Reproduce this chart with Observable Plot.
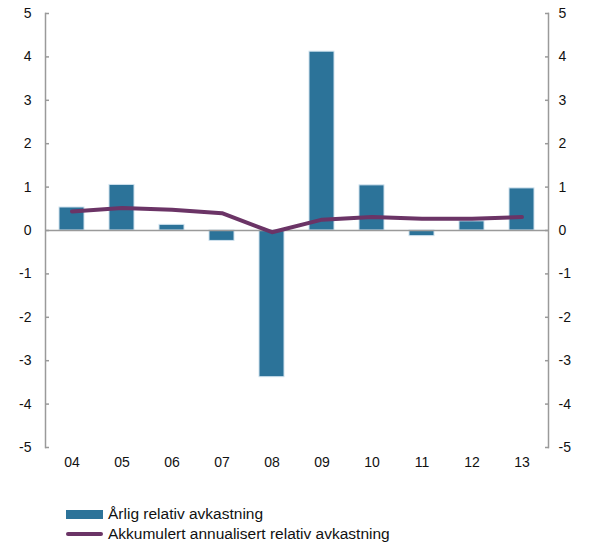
<!DOCTYPE html>
<html><head><meta charset="utf-8">
<script src="https://cdn.jsdelivr.net/npm/d3@7"></script>
<script src="https://cdn.jsdelivr.net/npm/@observablehq/plot@0.6"></script>
<style>
body{margin:0;background:#fff;font-family:"Liberation Sans",Arial,sans-serif;}
#legend{position:absolute;left:66px;top:504px;font-size:15.5px;color:#111}
.item{display:flex;align-items:center;height:20px}
.sw{display:inline-block;width:37px;margin-right:5px}
</style></head>
<body><div id="chart"></div>
<div id="legend">
<div class="item"><span class="sw" style="height:9px;background:#2c7399"></span>Årlig relativ avkastning</div>
<div class="item"><span class="sw" style="height:4px;background:#6b3466;border-radius:2px"></span>Akkumulert annualisert relativ avkastning</div>
</div>
<script>
const years = ["04","05","06","07","08","09","10","11","12","13"];
const annual = [0.53, 1.05, 0.13, -0.24, -3.38, 4.12, 1.04, -0.13, 0.21, 0.97];
const accumulated = [0.44, 0.52, 0.48, 0.40, -0.04, 0.25, 0.31, 0.27, 0.27, 0.31];
const yTicks = [-5,-4,-3,-2,-1,0,1,2,3,4,5];

const rows = years.map((y,i)=>({year:y, annual:annual[i], acc:accumulated[i]}));
const axisColor = "#9a9a9a";
const font = '"Liberation Sans", Arial, sans-serif';
const chart = Plot.plot({
  width: 592, height: 480,
  marginLeft: 45, marginRight: 44, marginTop: 13, marginBottom: 33,
  style: {fontFamily: font, color: "#111"},
  x: {domain: years, padding: 0.5, paddingOuter: 0.25, label: null, axis: null},
  y: {domain: [-5,5], label: null},
  marks: [
    Plot.barY(rows, {x:"year", y:"annual", fill:"#2c7399", stroke:"#cfe2ee", strokeWidth:1}),
    Plot.ruleY([0], {stroke: axisColor, strokeWidth: 1.5}),
    Plot.lineY(rows, {x:"year", y:"acc", stroke:"#6b3466", strokeWidth:4, strokeLinecap:"round"}),
    Plot.frame({anchor:"left", stroke: axisColor, strokeWidth: 1.5}),
    Plot.frame({anchor:"right", stroke: axisColor, strokeWidth: 1.5}),
    Plot.axisY(yTicks, {anchor:"left", tickSize:-4, stroke: axisColor, strokeWidth:1.5, tickFormat: () => ""}),
    Plot.axisY(yTicks, {anchor:"right", tickSize:-4, stroke: axisColor, strokeWidth:1.5, tickFormat: () => ""}),
    Plot.text(yTicks, {y: d=>d, text: d=>String(d), frameAnchor:"left", dx:-14, textAnchor:"end", fontSize:14, fill:"#111"}),
    Plot.text(yTicks, {y: d=>d, text: d=>String(d), frameAnchor:"right", dx:10, textAnchor:"start", fontSize:14, fill:"#111"}),
    Plot.text(years, {x: d=>d, text: d=>d, frameAnchor:"bottom", dy:19, fontSize:14, fill:"#111"})
  ]
});
document.getElementById("chart").appendChild(chart);
</script>
</body></html>
